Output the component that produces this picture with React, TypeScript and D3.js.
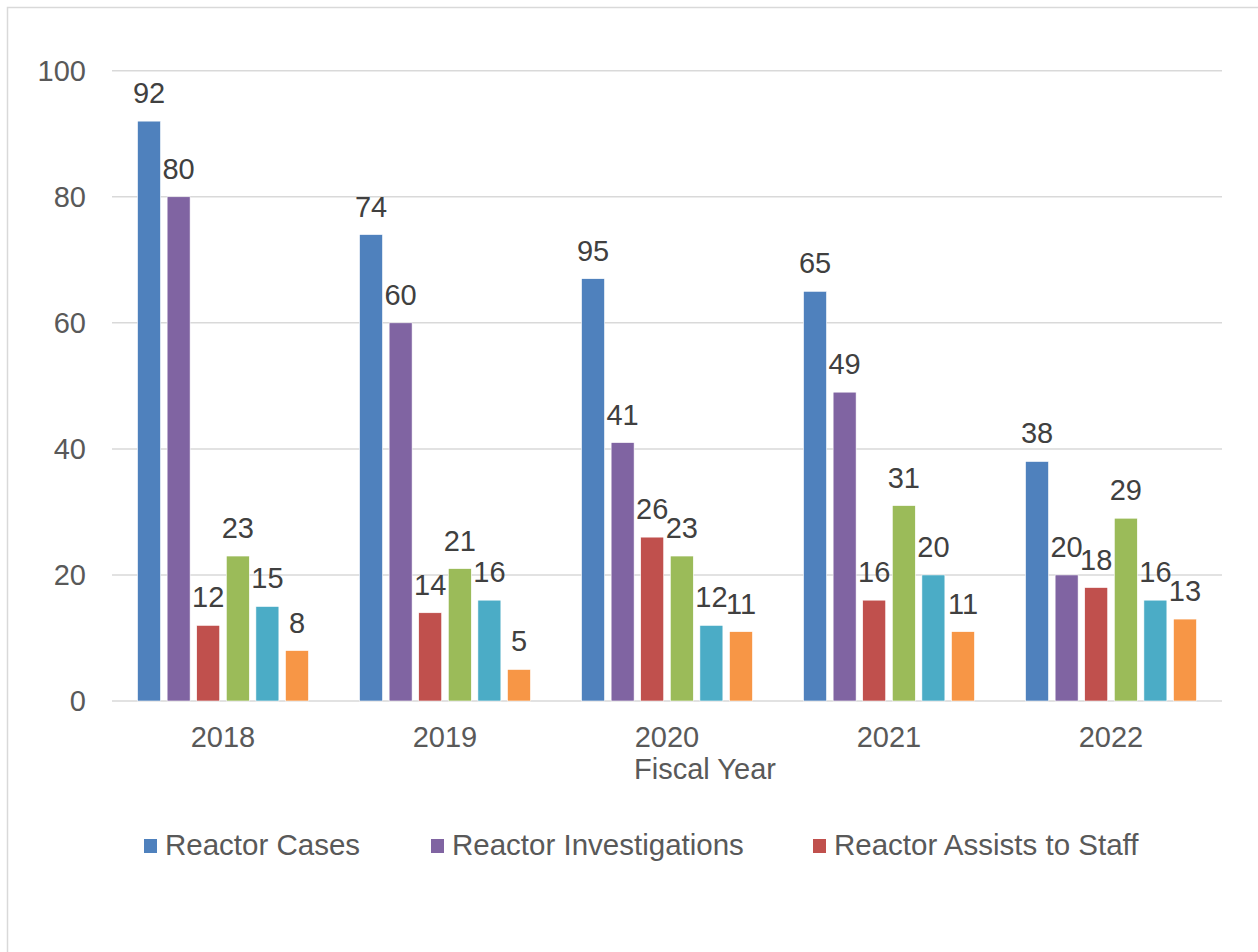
import React, { useRef, useEffect } from 'react';
import * as d3 from 'd3';

const years = ['2018', '2019', '2020', '2021', '2022'];
const seriesNames = [
  'Reactor Cases',
  'Reactor Investigations',
  'Reactor Assists to Staff',
  'Series 4',
  'Series 5',
  'Series 6'
];
const colors = ['#4f81bd', '#8064a2', '#c0504d', '#9bbb59', '#4bacc6', '#f79646'];

const reactorCases = [92, 74, 67, 65, 38];
const reactorInvestigations = [80, 60, 41, 49, 20];
const reactorAssists = [12, 14, 26, 16, 18];
const series4 = [23, 21, 23, 31, 29];
const series5 = [15, 16, 12, 20, 16];
const series6 = [8, 5, 11, 11, 13];
// the source chart prints 95 over the 2020 cases bar
const reactorCasesLabels = [92, 74, 95, 65, 38];

const yTicks = [0, 20, 40, 60, 80, 100];
const legendCount = 3;

const App = () => {
  const ref = useRef<SVGSVGElement>(null);

  useEffect(() => {
    const svg = d3.select(ref.current);
    svg.selectAll('*').remove();

    const allValues = [reactorCases, reactorInvestigations, reactorAssists, series4, series5, series6];
    const allLabels = [reactorCasesLabels, reactorInvestigations, reactorAssists, series4, series5, series6];
    const font = '"Liberation Sans", Arial, sans-serif';
    const fs = 29;

    const left = 112, right = 1222, top = 70.7, bottom = 701;

    // chart frame (only top and left edges visible)
    svg.append('path')
      .attr('d', `M7.5,${952 + 5}V7.5H${1258 + 5}`)
      .attr('fill', 'none')
      .attr('stroke', '#d9d9d9')
      .attr('stroke-width', 1.5);

    const y = d3.scaleLinear().domain([0, 100]).range([bottom, top]);
    const x0 = d3.scaleBand().domain(years).range([left, right]).paddingInner(0).paddingOuter(0);
    const groupWidth = x0.bandwidth() * 0.77;
    const x1 = d3.scaleBand<number>()
      .domain(d3.range(seriesNames.length))
      .range([0, groupWidth])
      .paddingInner(0.223)
      .paddingOuter(0);

    // gridlines
    svg.append('g').selectAll('line')
      .data(yTicks)
      .enter().append('line')
      .attr('x1', left).attr('x2', right)
      .attr('y1', d => y(d)).attr('y2', d => y(d))
      .attr('stroke', '#d9d9d9')
      .attr('stroke-width', 1.5);

    // y tick labels
    svg.append('g').selectAll('text')
      .data(yTicks)
      .enter().append('text')
      .attr('x', 86)
      .attr('y', d => y(d))
      .attr('dy', '0.35em')
      .attr('text-anchor', 'end')
      .attr('font-family', font)
      .attr('font-size', fs)
      .attr('fill', '#595959')
      .text(d => d);

    // bars
    const groups = svg.append('g').selectAll('g')
      .data(years)
      .enter().append('g')
      .attr('transform', d => `translate(${x0(d)! + (x0.bandwidth() - groupWidth) / 2},0)`);

    groups.selectAll('rect')
      .data((_, i) => allValues.map((s, k) => ({ k, v: s[i], label: allLabels[k][i] })))
      .enter().append('rect')
      .attr('x', d => x1(d.k)!)
      .attr('y', d => y(d.v))
      .attr('width', x1.bandwidth())
      .attr('height', d => bottom - y(d.v))
      .attr('fill', d => colors[d.k])
      .attr('stroke', '#ffffff')
      .attr('stroke-width', 0.6);

    groups.selectAll('text')
      .data((_, i) => allValues.map((s, k) => ({ k, v: s[i], label: allLabels[k][i] })))
      .enter().append('text')
      .attr('x', d => x1(d.k)! + x1.bandwidth() / 2)
      .attr('y', d => y(d.v) - 18)
      .attr('text-anchor', 'middle')
      .attr('font-family', font)
      .attr('font-size', fs)
      .attr('fill', '#404040')
      .text(d => d.label);

    // x labels
    svg.append('g').selectAll('text')
      .data(years)
      .enter().append('text')
      .attr('x', d => x0(d)! + x0.bandwidth() / 2)
      .attr('y', bottom + 46)
      .attr('text-anchor', 'middle')
      .attr('font-family', font)
      .attr('font-size', fs)
      .attr('fill', '#595959')
      .text(d => d);

    svg.append('text')
      .attr('x', 705)
      .attr('y', 779)
      .attr('text-anchor', 'middle')
      .attr('font-family', font)
      .attr('font-size', fs)
      .attr('fill', '#595959')
      .text('Fiscal Year');

    // legend (only first three entries fit)
    const legendX = [144, 431, 813];
    const legend = svg.append('g').selectAll('g')
      .data(seriesNames.slice(0, legendCount))
      .enter().append('g')
      .attr('transform', (_, i) => `translate(${legendX[i]},839)`);

    legend.append('rect')
      .attr('width', 13)
      .attr('height', 14)
      .attr('fill', (_, i) => colors[i]);

    legend.append('text')
      .attr('x', 21)
      .attr('y', 16)
      .attr('font-family', font)
      .attr('font-size', 29.5)
      .attr('fill', '#595959')
      .text(d => d);
  }, []);

  return (
    <>
      <style>{`
        body { margin: 0; background: #ffffff; }
        .chart-svg { display: block; }
      `}</style>
      <svg ref={ref} className="chart-svg" width={1258} height={952} />
    </>
  );
};

export default App;
